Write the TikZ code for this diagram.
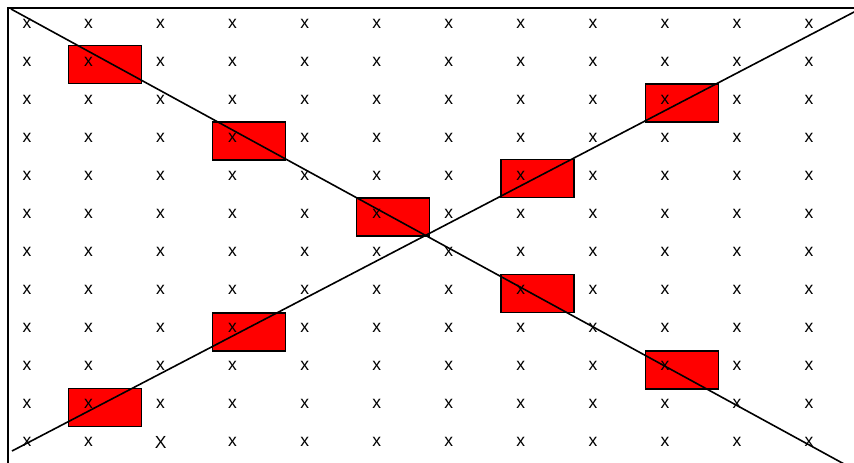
\documentclass[tikz,border=0pt]{standalone}
\usepackage{fontspec}
\setmainfont{Liberation Sans}
\begin{document}
\begin{tikzpicture}[x=1pt,y=-1pt,
  cellmark/.style={font=\fontsize{17.5}{17.5}\selectfont, inner sep=0pt, text=black},
  redbox/.style={draw=black, fill=red, line width=1.6pt, inner sep=0pt,
                 minimum width=73pt, minimum height=38pt},
  frameline/.style={line width=2pt, line cap=rect},
  diag/.style={line width=1.6pt}]
  \useasboundingbox (0,0) rectangle (854,463);
  \clip (0,0) rectangle (854,463);

  % outer frame: top and left edges
  \coordinate (ftl) at (8,7.5);
  \coordinate (ftr) at (856,7.5);
  \coordinate (fbl) at (8,465);
  \draw[frameline] (ftr) -- (ftl) -- (fbl);

  % red boxes along the two diagonals
  \node[redbox] (r1) at (105,64.5) {};
  \node[redbox] (r2) at (249,141) {};
  \node[redbox] (r3) at (393,217) {};
  \node[redbox] (r4) at (537.5,178.5) {};
  \node[redbox] (r5) at (682,103) {};
  \node[redbox] (r6) at (105,407.5) {};
  \node[redbox] (r7) at (249,332) {};
  \node[redbox] (r8) at (537.5,293.5) {};
  \node[redbox] (r9) at (682,370) {};

  % grid of marks
  \foreach \cx [count=\cn] in {27,88.5,160.6,232.6,304.7,376.7,448.8,520.8,592.9,664.9,737,809} {
    \foreach \rn in {1,...,12} {
      \node[cellmark] (g-\rn-\cn) at (\cx,{24+38*(\rn-1)})
        {\ifnum\rn=12 \ifnum\cn=3 X\else x\fi\else x\fi};
    }
  }

  % the two crossing diagonals
  \coordinate (d1) at (11,9);
  \coordinate (d2) at (856,470.5);
  \coordinate (a1) at (12,451);
  \coordinate (a2) at (856,11);
  \draw[diag] (d1) -- (d2);
  \draw[diag] (a1) -- (a2);
\end{tikzpicture}
\end{document}
